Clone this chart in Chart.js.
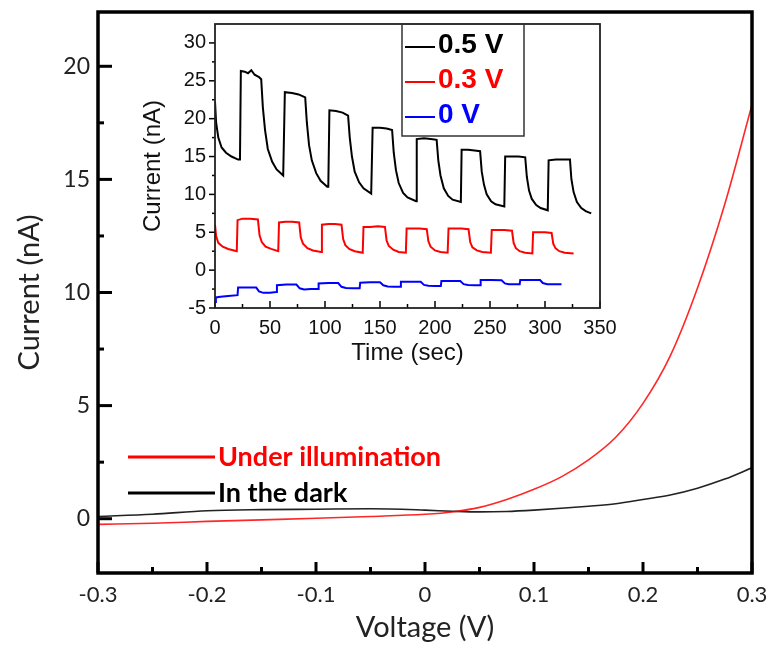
<!DOCTYPE html>
<html>
<head>
<meta charset="utf-8">
<script src="https://cdn.jsdelivr.net/npm/chart.js@4.4.0/dist/chart.umd.min.js"></script>
<style>
  body { margin: 0; background: #fff; }
  #wrap { position: relative; width: 773px; height: 647px; }
  #main { position: absolute; left: 0; top: 0; }
  #inset { position: absolute; left: 130px; top: 20px; background: #fff; }
</style>
</head>
<body>
<div id="wrap">
  <canvas id="main" width="773" height="647"></canvas>
  <canvas id="inset" width="495" height="360"></canvas>
</div>
<script>
// main I-V curves
const voltage = [-0.3, -0.25, -0.2, -0.15, -0.1, -0.05, 0, 0.025, 0.05, 0.075, 0.1, 0.125, 0.15, 0.175, 0.2, 0.225, 0.25, 0.275, 0.3];
const lightCurrent = [-0.25, -0.2, -0.12, -0.05, 0.02, 0.1, 0.2, 0.3, 0.5, 0.85, 1.3, 1.85, 2.6, 3.6, 5.1, 7.2, 10.2, 13.9, 18.3];
const darkCurrent = [0.1, 0.2, 0.35, 0.4, 0.42, 0.44, 0.38, 0.33, 0.3, 0.32, 0.38, 0.46, 0.55, 0.66, 0.85, 1.05, 1.35, 1.75, 2.25];
const voltageTicks = [-0.3, -0.2, -0.1, 0, 0.1, 0.2, 0.3];
const currentTicks = [0, 5, 10, 15, 20];

// inset: photo-response vs time
const time05 = [0, 1, 3, 6, 10, 15, 21, 22.7, 23.5, 27, 30, 33, 36, 40, 42, 43.5, 45.5, 48, 52, 56, 62, 62.7, 63.5, 70, 76, 82, 83.5, 85.5, 88, 92, 96, 102, 103, 104, 110, 116, 121, 122.5, 124.5, 127, 131, 135, 142, 142.5, 143.3, 150, 156, 161, 162.5, 164.5, 167, 171, 175, 182.8, 183.4, 190, 196, 201.5, 203, 205, 208, 212, 216, 223.5, 224.2, 230, 236, 241, 242.5, 244.5, 247, 251, 255, 263, 263.8, 270, 276, 282, 283.5, 285.5, 288, 292, 296, 302.5, 303.3, 310, 316, 322.7, 324, 326, 329, 333, 337, 342];
const current05 = [22.3, 19.5, 17.5, 16.2, 15.5, 15.0, 14.6, 14.6, 26.3, 26.2, 26.0, 26.4, 25.8, 25.5, 25.2, 21.5, 18.5, 16.0, 14.3, 13.3, 12.5, 12.5, 23.5, 23.4, 23.2, 22.8, 19.5, 16.5, 14.5, 12.8, 11.8, 11.0, 11.0, 21.1, 21.0, 20.8, 20.4, 17.5, 15.0, 13.0, 11.6, 10.8, 10.1, 10.1, 18.8, 18.8, 18.7, 18.5, 15.5, 13.2, 11.5, 10.2, 9.6, 9.1, 17.3, 17.4, 17.3, 17.2, 14.5, 12.5, 10.8, 9.8, 9.3, 9.0, 15.9, 15.9, 15.8, 15.7, 13.0, 11.3, 10.0, 9.1, 8.7, 8.4, 15.0, 15.0, 15.0, 14.9, 12.3, 10.5, 9.4, 8.6, 8.2, 7.9, 14.5, 14.6, 14.6, 14.6, 12.0, 10.3, 9.0, 8.2, 7.8, 7.5];

const time03 = [0, 1, 3, 7, 12, 19.8, 20.5, 25, 32, 39, 40.5, 42.5, 46, 51, 57.5, 58.2, 64, 70, 76.5, 78, 80, 84, 89, 96.5, 97.2, 103, 109, 115, 116.5, 118.5, 122, 127, 134.3, 135, 141, 148, 154.5, 156, 158, 162, 167, 173.5, 174.2, 180, 186, 192.5, 194, 196, 200, 205, 211.5, 212.3, 218, 224, 230.5, 232, 234, 238, 243, 250.8, 251.6, 257, 263, 270, 271.5, 273.5, 277, 282, 288.5, 289.2, 295, 300, 306, 307.5, 309.5, 313, 318, 326];
const current03 = [6.0, 4.5, 3.6, 3.1, 2.8, 2.5, 6.6, 6.8, 6.8, 6.7, 4.6, 3.7, 3.1, 2.8, 2.5, 6.3, 6.4, 6.4, 6.3, 4.3, 3.5, 2.9, 2.6, 2.4, 6.0, 6.1, 6.1, 6.0, 4.1, 3.3, 2.8, 2.5, 2.3, 5.7, 5.7, 5.8, 5.7, 3.9, 3.2, 2.7, 2.4, 2.3, 5.5, 5.5, 5.5, 5.4, 3.8, 3.1, 2.6, 2.4, 2.3, 5.5, 5.5, 5.5, 5.4, 3.7, 3.0, 2.6, 2.4, 2.3, 5.3, 5.3, 5.3, 5.2, 3.6, 2.9, 2.5, 2.3, 2.2, 5.0, 5.0, 5.0, 4.9, 3.5, 2.9, 2.5, 2.3, 2.2];

const time0 = [0, 0.8, 5, 12, 20.5, 21, 28, 37.5, 40, 44, 50, 55.8, 56.3, 65, 74, 77, 81, 87, 93.7, 94.2, 103, 112, 115, 119, 125, 131.5, 132, 141, 150, 153, 157, 163, 168.5, 169, 178, 187, 190, 194, 200, 205.3, 205.8, 214, 223, 226, 230, 236, 241, 241.5, 251, 260.5, 263.5, 267, 272, 277, 277.5, 286, 295.5, 298, 302, 309, 315];
const current0 = [-4.2, -3.6, -3.5, -3.4, -3.3, -2.3, -2.3, -2.3, -2.8, -3.0, -3.0, -2.9, -2.0, -1.9, -1.9, -2.4, -2.55, -2.5, -2.5, -1.75, -1.7, -1.7, -2.2, -2.35, -2.4, -2.4, -1.65, -1.6, -1.6, -2.0, -2.15, -2.2, -2.2, -1.55, -1.55, -1.55, -1.95, -2.05, -2.1, -2.1, -1.45, -1.45, -1.45, -1.85, -1.95, -2.0, -2.0, -1.3, -1.3, -1.35, -1.75, -1.85, -1.85, -1.85, -1.3, -1.3, -1.3, -1.7, -1.85, -1.85, -1.85];

const timeTicks = [0, 50, 100, 150, 200, 250, 300, 350];
const insetCurrentTicks = [-5, 0, 5, 10, 15, 20, 25, 30];

function pairs(xs, ys) {
    return xs.map((x, i) => ({ x: x, y: ys[i] }));
}

function midpoints(ticks) {
    return ticks.slice(1).map((v, i) => (v + ticks[i]) / 2);
}

// no extra room for the edge labels, the layout padding decides the plot box
function noPad(s) {
    s.paddingLeft = 0;
    s.paddingRight = 0;
    s.paddingTop = 0;
    s.paddingBottom = 0;
}

function tickMarks(ctx, scale, values, len, width, inward) {
    const area = scale.chart.chartArea;
    ctx.save();
    ctx.strokeStyle = '#000';
    ctx.lineWidth = width;
    values.forEach(v => {
        const p = scale.getPixelForValue(v);
        ctx.beginPath();
        if (scale.isHorizontal()) {
            ctx.moveTo(p, area.bottom);
            ctx.lineTo(p, inward ? area.bottom - len : area.bottom + len);
        } else {
            ctx.moveTo(area.left, p);
            ctx.lineTo(inward ? area.left + len : area.left - len, p);
        }
        ctx.stroke();
    });
    ctx.restore();
}

// frame, inward ticks and the legend of the big plot
const mainDecor = {
    id: 'mainDecor',
    afterDraw(chart) {
        const ctx = chart.ctx;
        const a = chart.chartArea;
        tickMarks(ctx, chart.scales.x, voltageTicks, 11, 3, true);
        tickMarks(ctx, chart.scales.x, midpoints(voltageTicks), 6, 3, true);
        tickMarks(ctx, chart.scales.y, currentTicks, 14, 3, true);
        tickMarks(ctx, chart.scales.y, midpoints(currentTicks), 6, 3, true);

        ctx.save();
        ctx.strokeStyle = '#000';
        ctx.lineWidth = 3.5;
        ctx.strokeRect(a.left, a.top, a.right - a.left, a.bottom - a.top);

        // legend
        const entries = [
            { label: 'Under illumination', color: '#ff0000', y: 457 },
            { label: 'In the dark', color: '#000000', y: 493 }
        ];
        ctx.font = 'bold 27px Lato';
        ctx.textBaseline = 'middle';
        entries.forEach(e => {
            ctx.strokeStyle = e.color;
            ctx.lineWidth = 3;
            ctx.beginPath();
            ctx.moveTo(128, e.y);
            ctx.lineTo(215, e.y);
            ctx.stroke();
            ctx.fillStyle = e.color;
            ctx.fillText(e.label, 218, e.y);
        });
        ctx.restore();
    }
};

const insetDecor = {
    id: 'insetDecor',
    afterDraw(chart) {
        const ctx = chart.ctx;
        const a = chart.chartArea;
        tickMarks(ctx, chart.scales.x, timeTicks, 7, 1.5, true);
        tickMarks(ctx, chart.scales.x, midpoints(timeTicks), 4, 1.5, true);
        tickMarks(ctx, chart.scales.y, insetCurrentTicks, 6, 1.5, false);
        tickMarks(ctx, chart.scales.y, midpoints(insetCurrentTicks), 3, 1.5, false);

        ctx.save();
        ctx.strokeStyle = '#222';
        ctx.lineWidth = 1.8;
        ctx.strokeRect(a.left, a.top, a.right - a.left, a.bottom - a.top);

        // legend box
        const bx = a.left + 187, by = a.top;
        ctx.lineWidth = 1.5;
        ctx.strokeStyle = '#333';
        ctx.strokeRect(bx, by, 122, 112);
        ctx.font = 'bold 28px "Liberation Sans", Arial, sans-serif';
        ctx.textBaseline = 'middle';
        chart.data.datasets.forEach((ds, i) => {
            const y = by + 21 + i * 35;
            ctx.strokeStyle = ds.borderColor;
            ctx.lineWidth = 2;
            ctx.beginPath();
            ctx.moveTo(bx + 3, y + 2);
            ctx.lineTo(bx + 33, y + 2);
            ctx.stroke();
            ctx.fillStyle = ds.borderColor;
            ctx.fillText(ds.label, bx + 36, y);
        });
        ctx.restore();
    }
};

new Chart(document.getElementById('main'), {
    type: 'line',
    data: {
        datasets: [{
            label: 'Under illumination',
            data: pairs(voltage, lightCurrent),
            borderColor: 'rgba(255, 0, 0, 0.85)',
            borderWidth: 1.6,
            pointRadius: 0,
            cubicInterpolationMode: 'monotone'
        }, {
            label: 'In the dark',
            data: pairs(voltage, darkCurrent),
            borderColor: '#222',
            borderWidth: 1.6,
            pointRadius: 0,
            cubicInterpolationMode: 'monotone'
        }]
    },
    options: {
        responsive: false,
        animation: false,
        devicePixelRatio: 1,
        events: [],
        layout: { padding: { left: 0, top: 12, right: 21, bottom: 0 } },
        plugins: { legend: { display: false }, tooltip: { enabled: false } },
        scales: {
            x: {
                type: 'linear',
                min: -0.3,
                max: 0.3,
                afterBuildTicks: s => { s.ticks = voltageTicks.map(v => ({ value: v })); },
                afterFit: s => { s.height = 74; noPad(s); },
                grid: { display: false, drawTicks: false },
                border: { display: false },
                ticks: {
                    padding: 9,
                    color: '#222',
                    font: { family: 'Lato', size: 22 },
                    maxRotation: 0,
                    callback: v => String(Math.round(v * 10) / 10)
                },
                title: {
                    display: true,
                    text: 'Voltage (V)',
                    color: '#222',
                    font: { family: 'Lato', size: 29 },
                    padding: { top: 0, bottom: 2 }
                }
            },
            y: {
                min: -2.4,
                max: 22.4,
                afterBuildTicks: s => { s.ticks = currentTicks.map(v => ({ value: v })); },
                afterFit: s => { s.width = 98; noPad(s); },
                grid: { display: false, drawTicks: false },
                border: { display: false },
                ticks: {
                    padding: 8,
                    color: '#222',
                    font: { family: 'Lato', size: 23 }
                },
                title: {
                    display: true,
                    text: 'Current (nA)',
                    color: '#222',
                    font: { family: 'Lato', size: 29 },
                    padding: { top: 12, bottom: 0 }
                }
            }
        }
    },
    plugins: [mainDecor]
});

new Chart(document.getElementById('inset'), {
    type: 'line',
    data: {
        datasets: [{
            label: '0.5 V',
            data: pairs(time05, current05),
            borderColor: '#000000',
            borderWidth: 2,
            pointRadius: 0
        }, {
            label: '0.3 V',
            data: pairs(time03, current03),
            borderColor: '#ff0000',
            borderWidth: 2,
            pointRadius: 0
        }, {
            label: '0 V',
            data: pairs(time0, current0),
            borderColor: '#0000ff',
            borderWidth: 2,
            pointRadius: 0
        }]
    },
    options: {
        responsive: false,
        animation: false,
        devicePixelRatio: 1,
        events: [],
        layout: { padding: { left: 0, top: 4, right: 25, bottom: 0 } },
        plugins: { legend: { display: false }, tooltip: { enabled: false } },
        scales: {
            x: {
                type: 'linear',
                min: 0,
                max: 350,
                afterBuildTicks: s => { s.ticks = timeTicks.map(v => ({ value: v })); },
                afterFit: s => { s.height = 72; noPad(s); },
                grid: { display: false, drawTicks: false },
                border: { display: false },
                ticks: {
                    padding: 8,
                    color: '#111',
                    maxRotation: 0,
                    font: { family: 'Liberation Sans', size: 20 }
                },
                title: {
                    display: true,
                    text: 'Time (sec)',
                    color: '#111',
                    font: { family: 'Liberation Sans', size: 24 },
                    padding: { top: 0, bottom: 12 }
                }
            },
            y: {
                min: -5,
                max: 32.5,
                afterBuildTicks: s => { s.ticks = insetCurrentTicks.map(v => ({ value: v })); },
                afterFit: s => { s.width = 85; noPad(s); },
                grid: { display: false, drawTicks: false },
                border: { display: false },
                ticks: {
                    padding: 9,
                    color: '#111',
                    font: { family: 'Liberation Sans', size: 20 }
                },
                title: {
                    display: true,
                    text: 'Current (nA)',
                    color: '#111',
                    font: { family: 'Liberation Sans', size: 24 },
                    padding: { top: 9, bottom: 0 }
                }
            }
        }
    },
    plugins: [insetDecor]
});
</script>
</body>
</html>
